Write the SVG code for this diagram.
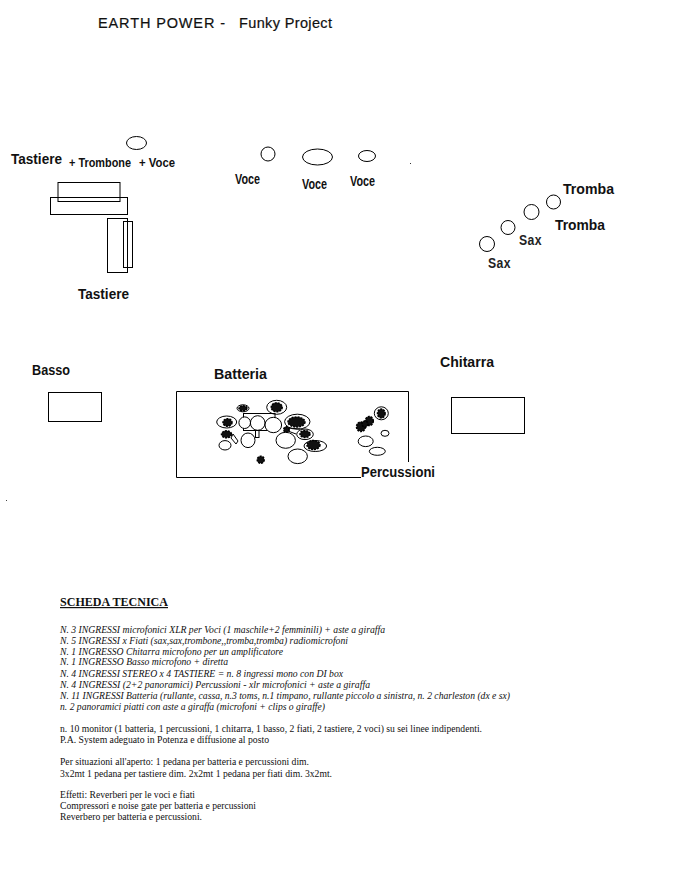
<svg xmlns="http://www.w3.org/2000/svg" width="674" height="879" viewBox="0 0 674 879">
<style>
.s{fill:none;stroke:#000;stroke-width:1}
.w{fill:#fff;stroke:#000;stroke-width:1}
.k{fill:#111;stroke:#000;stroke-width:1.500;stroke-dasharray:2 1}
.h{font-family:"Liberation Sans",Arial,sans-serif;font-size:14px;font-weight:bold;fill:#111}
.n{font-family:"Liberation Sans",Arial,sans-serif;font-size:14px;font-weight:bold;fill:#111}
.x{font-family:"Liberation Sans",Arial,sans-serif;font-size:14px;font-weight:bold;fill:#222;letter-spacing:.5px}
.t{font-family:"Liberation Serif","Times New Roman",serif;font-size:10px;fill:#111}
.i{font-style:italic}
</style>
<rect width="674" height="879" fill="#fff"/>
<g id="title">
<text x="98" y="28" font-family="Liberation Sans,sans-serif" font-size="14.500" fill="#111" stroke="#111" stroke-width=".2" textLength="127">EARTH POWER  -</text>
<text x="239" y="28" font-family="Liberation Sans,sans-serif" font-size="14.500" fill="#111" stroke="#111" stroke-width=".2" textLength="93">Funky Project</text>
</g>
<g id="keys">
<text class="h" x="11" y="164" textLength="51" lengthAdjust="spacingAndGlyphs">Tastiere</text>
<text class="n" x="69" y="166.500" font-size="12.400" style="font-size:12.400px" textLength="62" lengthAdjust="spacingAndGlyphs">+ Trombone</text>
<text class="n" x="139" y="166.500" style="font-size:12.400px" textLength="36" lengthAdjust="spacingAndGlyphs">+ Voce</text>
<ellipse class="s" cx="136.500" cy="143" rx="10" ry="6.500"/>
<rect class="s" x="58" y="182.500" width="62" height="19"/>
<rect class="s" x="50.500" y="197.500" width="77" height="17"/>
<rect class="s" x="107.500" y="218.500" width="20" height="54"/>
<rect class="s" x="123.500" y="221.500" width="9" height="46"/>
<text class="h" x="78" y="299" textLength="51" lengthAdjust="spacingAndGlyphs">Tastiere</text>
</g>
<g id="voices">
<circle class="s" cx="268" cy="154" r="7"/>
<ellipse class="s" cx="317.500" cy="157" rx="15" ry="8"/>
<ellipse class="s" cx="367" cy="156" rx="8.500" ry="5.500"/>
<text class="n" x="235" y="184" textLength="25" lengthAdjust="spacingAndGlyphs">Voce</text>
<text class="n" x="302" y="189" textLength="25" lengthAdjust="spacingAndGlyphs">Voce</text>
<text class="n" x="350" y="186" textLength="25" lengthAdjust="spacingAndGlyphs">Voce</text>
<rect x="410" y="163" width="1" height="1" fill="#333"/>
</g>
<g id="horns">
<circle class="s" cx="487" cy="244" r="7.500"/>
<circle class="s" cx="508" cy="227.500" r="7"/>
<circle class="s" cx="531.500" cy="212" r="7.500"/>
<circle class="s" cx="553.500" cy="202" r="7"/>
<text class="h" x="563" y="194" textLength="51" lengthAdjust="spacingAndGlyphs">Tromba</text>
<text class="h" x="555" y="230" textLength="50" lengthAdjust="spacingAndGlyphs">Tromba</text>
<text class="x" x="519" y="245" textLength="23" lengthAdjust="spacingAndGlyphs">Sax</text>
<text class="x" x="488" y="268" textLength="23" lengthAdjust="spacingAndGlyphs">Sax</text>
</g>
<g id="bass">
<text class="h" x="32" y="375" textLength="38" lengthAdjust="spacingAndGlyphs">Basso</text>
<rect class="s" x="48.500" y="392.500" width="53" height="29"/>
</g>
<g id="guitar">
<text class="h" x="440" y="367" textLength="54" lengthAdjust="spacingAndGlyphs">Chitarra</text>
<rect class="s" x="451.500" y="397.500" width="73" height="36"/>
</g>
<g id="drums">
<text class="h" x="214" y="379" textLength="53" lengthAdjust="spacingAndGlyphs">Batteria</text>
<path class="s" d="M361 477.500H176.500V391.500H408.500V462"/>
<ellipse class="s" cx="243" cy="408.300" rx="6" ry="3.500"/><ellipse class="k" cx="243" cy="408.300" rx="4" ry="2.500"/>
<ellipse class="s" cx="276.700" cy="407.300" rx="10" ry="7"/><ellipse class="k" cx="276.700" cy="407.300" rx="5.500" ry="4.500"/>
<rect class="s" x="243.500" y="413.500" width="31.500" height="17"/>
<ellipse class="s" cx="226.700" cy="422" rx="10" ry="6"/><ellipse class="k" cx="227.500" cy="422.500" rx="4.500" ry="3.800"/>
<circle class="w" cx="244.700" cy="422.700" r="5.800"/>
<circle class="w" cx="257.700" cy="423" r="7.300"/>
<ellipse class="w" cx="273.300" cy="425" rx="8.300" ry="7.700"/>
<ellipse class="s" cx="297.300" cy="421.700" rx="12.700" ry="7.500"/><ellipse class="k" cx="296.500" cy="422" rx="8.500" ry="5"/>
<circle class="k" cx="286.500" cy="429.500" r="2.800"/>
<path class="s" d="M288 428l12 1M288 431l8 3"/>
<ellipse class="k" cx="226.500" cy="434.300" rx="5" ry="3.500"/>
<path class="s" d="M233 434l5 7-2 3-5-6z"/>
<ellipse class="s" cx="225" cy="445.300" rx="6" ry="4.700"/>
<ellipse class="s" cx="248" cy="440.300" rx="7" ry="7.300"/>
<rect class="w" x="255.500" y="430.500" width="3.500" height="7"/>
<ellipse class="s" cx="305" cy="434.300" rx="8.300" ry="5.300"/><ellipse class="k" cx="305" cy="434" rx="5" ry="3.500"/>
<ellipse class="s" cx="285.700" cy="440.300" rx="9.700" ry="8"/>
<ellipse class="s" cx="315.300" cy="446" rx="11.300" ry="5.500"/><ellipse class="k" cx="313.500" cy="445" rx="6.500" ry="4.500"/>
<ellipse class="s" cx="297.700" cy="456.300" rx="9.700" ry="7.300"/>
<circle class="k" cx="260.700" cy="459.700" r="3.500"/>
<ellipse class="s" cx="381.300" cy="413.300" rx="7" ry="6.500"/><ellipse class="k" cx="381.300" cy="413.500" rx="3.800" ry="4.500"/>
<ellipse class="k" cx="369.300" cy="421" rx="4" ry="4.500"/>
<ellipse class="k" cx="361" cy="426.700" rx="4.500" ry="4.800"/>
<ellipse class="k" cx="365" cy="424" rx="3" ry="3"/>
<ellipse class="s" cx="385" cy="433.300" rx="4" ry="3"/>
<ellipse class="s" cx="365.700" cy="441.300" rx="7.500" ry="5.300"/>
<ellipse class="s" cx="377.300" cy="451.300" rx="8" ry="4"/>
<text class="h" x="361" y="477" textLength="74" lengthAdjust="spacingAndGlyphs">Percussioni</text>
</g>
<rect x="6" y="500" width="1" height="1" fill="#444"/>
<g id="scheda">
<text x="60" y="606" font-family="Liberation Serif,serif" font-size="12" font-weight="bold" fill="#111" text-decoration="underline" textLength="108" lengthAdjust="spacingAndGlyphs">SCHEDA TECNICA</text>
<g class="t i">
<text x="60" y="633" textLength="325" lengthAdjust="spacingAndGlyphs">N. 3 INGRESSI microfonici XLR per Voci (1 maschile+2 femminili) + aste a giraffa</text>
<text x="60" y="644" textLength="288" lengthAdjust="spacingAndGlyphs">N. 5 INGRESSI x Fiati (sax,sax,trombone,,tromba,tromba) radiomicrofoni</text>
<text x="60" y="655" textLength="223" lengthAdjust="spacingAndGlyphs">N. 1 INGRESSO Chitarra microfono per un amplificatore</text>
<text x="60" y="665" textLength="168" lengthAdjust="spacingAndGlyphs">N. 1 INGRESSO Basso microfono + diretta</text>
<text x="60" y="677" textLength="283" lengthAdjust="spacingAndGlyphs">N. 4 INGRESSI STEREO x 4 TASTIERE = n. 8 ingressi mono con DI box</text>
<text x="60" y="688" textLength="310" lengthAdjust="spacingAndGlyphs">N. 4 INGRESSI (2+2 panoramici) Percussioni -  xlr microfonici + aste a giraffa</text>
<text x="60" y="699" textLength="450" lengthAdjust="spacingAndGlyphs">N. 11 INGRESSI Batteria (rullante, cassa, n.3 toms, n.1 timpano, rullante piccolo a sinistra, n. 2 charleston (dx e sx)</text>
<text x="60" y="710" textLength="265" lengthAdjust="spacingAndGlyphs">n. 2 panoramici piatti con aste a giraffa (microfoni + clips o giraffe)</text>
</g>
<g class="t">
<text x="60" y="732" textLength="422" lengthAdjust="spacingAndGlyphs">n. 10 monitor (1 batteria, 1 percussioni, 1 chitarra, 1 basso, 2 fiati, 2 tastiere, 2 voci) su sei linee indipendenti.</text>
<text x="60" y="743" textLength="209" lengthAdjust="spacingAndGlyphs">P.A. System adeguato in Potenza e diffusione al posto</text>
<text x="60" y="765" textLength="249" lengthAdjust="spacingAndGlyphs">Per situazioni all'aperto: 1 pedana per batteria e percussioni dim.</text>
<text x="60" y="777" textLength="272" lengthAdjust="spacingAndGlyphs">3x2mt 1 pedana per tastiere dim. 2x2mt 1 pedana per fiati dim. 3x2mt.</text>
<text x="60" y="798" textLength="135" lengthAdjust="spacingAndGlyphs">Effetti: Reverberi per le voci e fiati</text>
<text x="60" y="809" textLength="196" lengthAdjust="spacingAndGlyphs">Compressori e noise gate per batteria e percussioni</text>
<text x="60" y="820" textLength="142" lengthAdjust="spacingAndGlyphs">Reverbero per batteria e percussioni.</text>
</g>
</g>
</svg>
